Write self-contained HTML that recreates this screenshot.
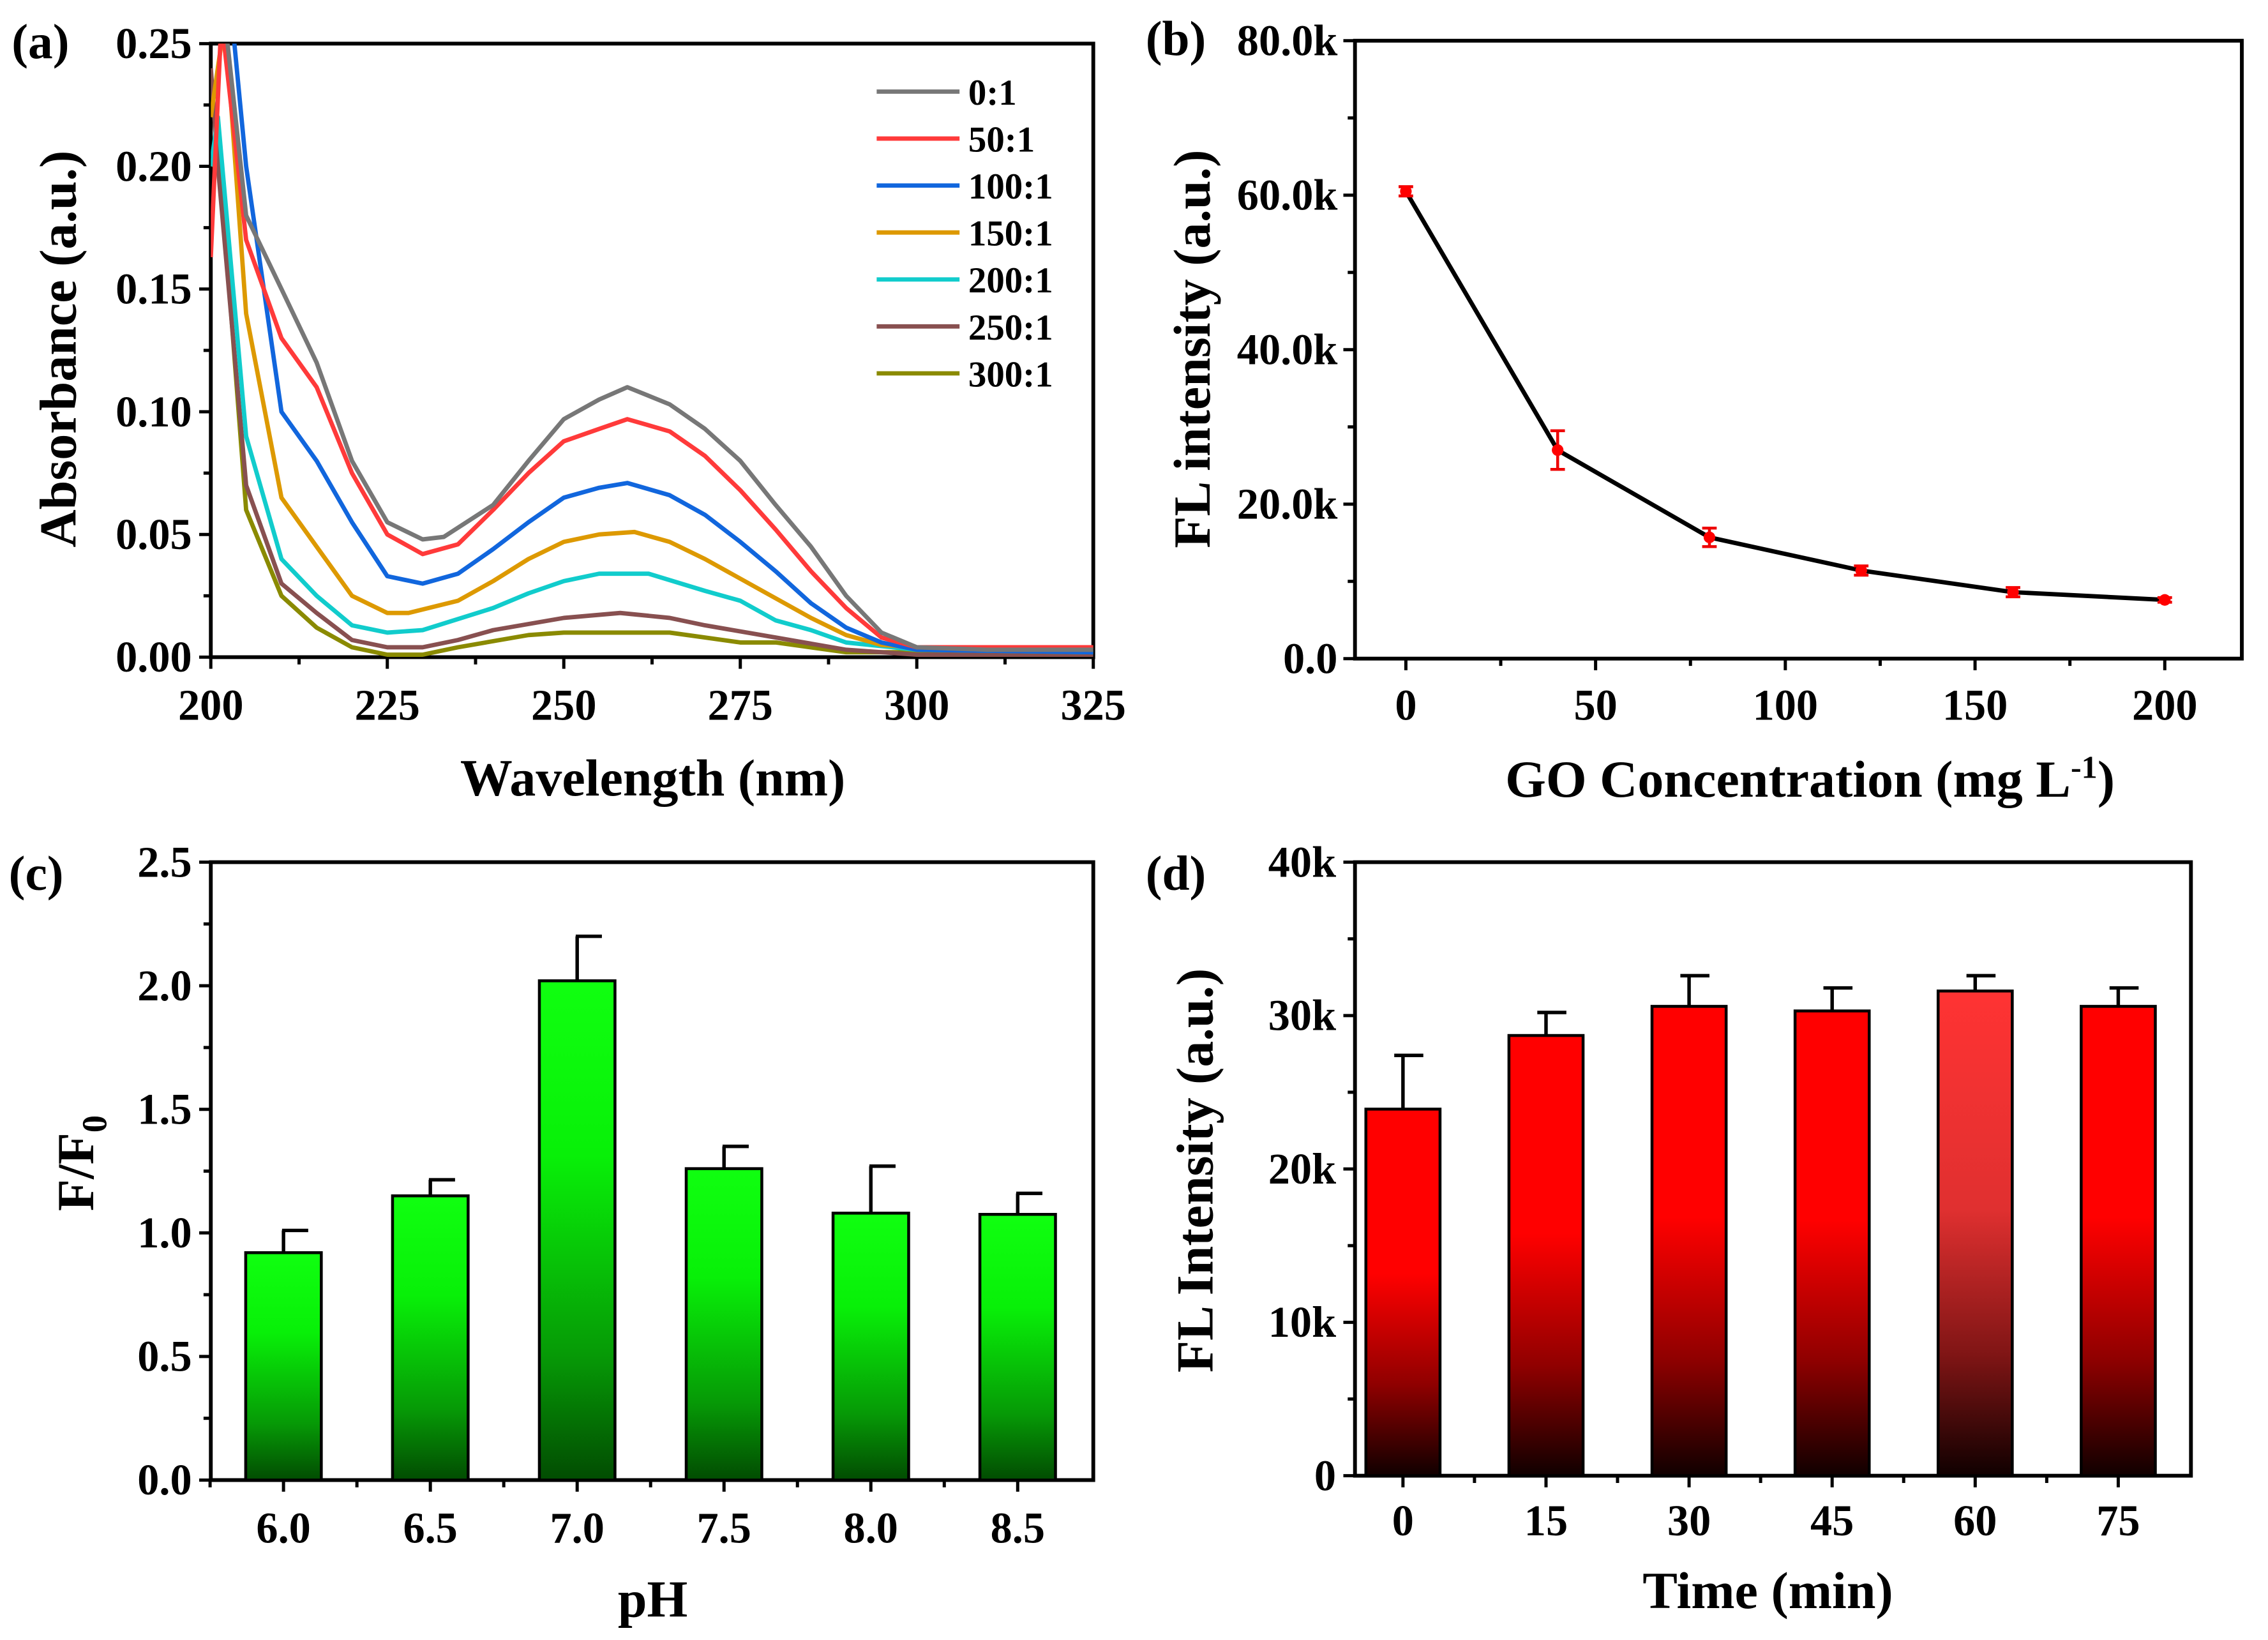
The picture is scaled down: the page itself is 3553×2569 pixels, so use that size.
<!DOCTYPE html>
<html><head><meta charset="utf-8"><style>
html,body{margin:0;padding:0;background:#fff}
svg{display:block}
text{font-family:"Liberation Serif",serif;font-weight:bold;fill:#000}
</style></head><body>
<svg id="fig" width="3553" height="2569" viewBox="0 0 1560 1128" preserveAspectRatio="none">
<defs>
<linearGradient id="gGreen" x1="0" y1="0" x2="0" y2="1">
<stop offset="0" stop-color="#10ff10"/><stop offset="0.35" stop-color="#08f008"/><stop offset="0.75" stop-color="#069a06"/><stop offset="1" stop-color="#024c02"/>
</linearGradient>
<linearGradient id="gRed" x1="0" y1="0" x2="0" y2="1">
<stop offset="0" stop-color="#ff0000"/><stop offset="0.45" stop-color="#ff0000"/><stop offset="0.75" stop-color="#900000"/><stop offset="1" stop-color="#100000"/>
</linearGradient>
<linearGradient id="gRed2" x1="0" y1="0" x2="0" y2="1">
<stop offset="0" stop-color="#ff3333"/><stop offset="0.45" stop-color="#e03030"/><stop offset="0.75" stop-color="#801515"/><stop offset="1" stop-color="#100000"/>
</linearGradient>
<clipPath id="clipA"><rect x="145" y="30" width="607" height="422"/></clipPath>
</defs>
<g id="root"></g>
</svg>
<script>
// Panel (a)
const aLabels = ["0:1","50:1","100:1","150:1","200:1","250:1","300:1"];
const aColors = ["#777777","#ff3a3a","#1166dd","#dd9900","#11cccc","#885050","#8a8a00"];
const aWl0 = [200,202,205,210,215,220,225,230,233,240,245,250,255,259,265,270,275,280,285,290,295,300,310,325];
const aAb0 = [0.26,0.26,0.18,0.15,0.12,0.08,0.055,0.048,0.049,0.062,0.08,0.097,0.105,0.11,0.103,0.093,0.08,0.062,0.045,0.025,0.01,0.004,0.003,0.003];
const aWl1 = [200,201.5,205,210,215,220,225,230,235,240,245,250,255,259,265,270,275,280,285,290,295,300,325];
const aAb1 = [0.163,0.26,0.17,0.13,0.11,0.075,0.05,0.042,0.046,0.06,0.075,0.088,0.093,0.097,0.092,0.082,0.068,0.052,0.035,0.02,0.008,0.004,0.004];
const aWl2 = [200,203,205,210,215,220,225,230,235,240,245,250,255,259,265,270,275,280,285,290,295,300,325];
const aAb2 = [0.26,0.26,0.2,0.1,0.08,0.055,0.033,0.03,0.034,0.044,0.055,0.065,0.069,0.071,0.066,0.058,0.047,0.035,0.022,0.012,0.006,0.003,0.002];
const aWl3 = [200,202,205,210,215,220,225,228,235,240,245,250,255,260,265,270,275,280,285,290,295,300,325];
const aAb3 = [0.22,0.26,0.14,0.065,0.045,0.025,0.018,0.018,0.023,0.031,0.04,0.047,0.05,0.051,0.047,0.04,0.032,0.024,0.016,0.009,0.005,0.004,0.004];
const aWl4 = [200,201,205,210,215,220,225,230,240,245,250,255,262,270,275,280,285,290,300,325];
const aAb4 = [0.2,0.22,0.09,0.04,0.025,0.013,0.01,0.011,0.02,0.026,0.031,0.034,0.034,0.027,0.023,0.015,0.011,0.006,0.003,0.002];
const aWl5 = [200,201,205,210,215,220,225,230,235,240,250,258,265,270,280,290,300,325];
const aAb5 = [0.24,0.2,0.07,0.03,0.018,0.007,0.004,0.004,0.007,0.011,0.016,0.018,0.016,0.013,0.008,0.003,0.001,0.001];
const aWl6 = [200,201,205,210,215,220,225,230,235,245,250,265,270,275,280,290,325];
const aAb6 = [0.2,0.21,0.06,0.025,0.012,0.004,0.001,0.001,0.004,0.009,0.01,0.01,0.008,0.006,0.006,0.002,0.002];
const aXTicks = [200,225,250,275,300,325];
const aYTicks = [0,0.05,0.10,0.15,0.20,0.25];
// Panel (b)
const bConc = [0,40,80,120,160,200];
const bVal = [60500,27000,15700,11400,8600,7600];
const bErr = [600,2500,1200,600,600,300];
const bXTicks = [0,50,100,150,200];
const bYTicks = [0,20000,40000,60000,80000];
const bYTickLabels = ["0.0","20.0k","40.0k","60.0k","80.0k"];
// Panel (c)
const cPH = ["6.0","6.5","7.0","7.5","8.0","8.5"];
const cVal = [0.92,1.15,2.02,1.26,1.08,1.075];
const cErr = [0.09,0.065,0.18,0.09,0.19,0.085];
const cYTicks = [0,0.5,1.0,1.5,2.0,2.5];
// Panel (d)
const dTime = ["0","15","30","45","60","75"];
const dVal = [23900,28700,30600,30300,31600,30600];
const dErr = [3500,1500,2000,1500,1000,1200];
const dYTicks = [0,10000,20000,30000,40000];
const dYTickLabels = ["0","10k","20k","30k","40k"];

const NS="http://www.w3.org/2000/svg";
const root=document.getElementById('root');
const TK=30, TT=36, PL=34;
function mk(tag,attrs,parent,txt){const e=document.createElementNS(NS,tag);for(const k in attrs)e.setAttribute(k,attrs[k]);if(txt!==undefined)e.textContent=txt;(parent||root).appendChild(e);return e;}

function frame(x0,y0,x1,y1,name){
  const r=mk('rect',{x:x0,y:y0,width:x1-x0,height:y1-y0,fill:'none',stroke:'#000','stroke-width':2.6});
  
  
}
function tick(x1,y1,x2,y2){mk('line',{x1:x1,y1:y1,x2:x2,y2:y2,stroke:'#000','stroke-width':2.2});}
function label(x,y,s,anchor,size,name){
  const t=mk('text',{x:x,y:y,'text-anchor':anchor,'font-size':size},root,s);
  
  
  return t;
}

// ---------- Panel a ----------
const aX=v=>145+(v-200)/125*607;
const aY=v=>452-v/0.25*422;
frame(145,30,752,452,'panel-a-frame');
aXTicks.forEach((v,i)=>{tick(aX(v),452,aX(v),460);label(aX(v),495,String(v),'middle',TK,'x-tick-label');
  if(i<aXTicks.length-1){const m=aX(v+12.5);tick(m,452,m,457);}});
aYTicks.forEach((v,i)=>{tick(145,aY(v),137,aY(v));label(132,aY(v)+10,v.toFixed(2),'end',TK,'y-tick-label');
  if(i<aYTicks.length-1){const m=aY(v+0.025);tick(145,m,140,m);}});
const aWls=[aWl0,aWl1,aWl2,aWl3,aWl4,aWl5,aWl6];
const aAbs=[aAb0,aAb1,aAb2,aAb3,aAb4,aAb5,aAb6];
const gA=mk('g',{'clip-path':'url(#clipA)'});
for(let s=aWls.length-1;s>=0;s--){
  const d=aWls[s].map((w,i)=>(i?'L':'M')+aX(w).toFixed(1)+','+aY(aAbs[s][i]).toFixed(1)).join(' ');
  const p=mk('path',{d:d,fill:'none',stroke:aColors[s],'stroke-width':3,'stroke-linejoin':'round'},gA);
  
  
}
aLabels.forEach((l,i)=>{const y=63+i*32.3;
  const ln=mk('line',{x1:603,y1:y,x2:660,y2:y,stroke:aColors[i],'stroke-width':3});
  
  
  label(666,y+9,l,'start',25,'legend-entry');});
label(449,547,'Wavelength (nm)','middle',TT,'x-axis-title');
let t=label(0,0,'Absorbance (a.u.)','middle',TT,'y-axis-title');t.setAttribute('transform','translate(52,240) rotate(-90)');
label(8,40,'(a)','start',PL,'panel-label-a');

// ---------- Panel b ----------
const bX=v=>967+v*2.61;
const bY=v=>453-v/80000*425;
frame(932,28,1542,453,'panel-b-frame');
bXTicks.forEach((v,i)=>{tick(bX(v),453,bX(v),461);label(bX(v),495,String(v),'middle',TK,'x-tick-label');
  if(i<bXTicks.length-1){const m=bX(v+25);tick(m,453,m,458);}});
bYTicks.forEach((v,i)=>{tick(932,bY(v),924,bY(v));label(920,bY(v)+10,bYTickLabels[i],'end',TK,'y-tick-label');
  if(i<bYTicks.length-1){const m=bY(v+10000);tick(932,m,927,m);}});
const bd=bConc.map((c,i)=>(i?'L':'M')+bX(c).toFixed(1)+','+bY(bVal[i]).toFixed(1)).join(' ');
const bl=mk('path',{d:bd,fill:'none',stroke:'#000','stroke-width':3,'stroke-linejoin':'round'});


bConc.forEach((c,i)=>{const x=bX(c),y1=bY(bVal[i]+bErr[i]),y2=bY(bVal[i]-bErr[i]);
  const g=mk('g',{});
  
  
  mk('line',{x1:x,y1:y1,x2:x,y2:y2,stroke:'#e00','stroke-width':2},g);
  mk('line',{x1:x-5,y1:y1,x2:x+5,y2:y1,stroke:'#e00','stroke-width':2},g);
  mk('line',{x1:x-5,y1:y2,x2:x+5,y2:y2,stroke:'#e00','stroke-width':2},g);
  mk('circle',{cx:x,cy:bY(bVal[i]),r:4,fill:'#f00'},g);});
const bt=label(1245,548,'GO Concentration (mg L','middle',TT,'x-axis-title');
mk('tspan',{dy:-13,'font-size':22},bt,'-1');
mk('tspan',{dy:13},bt,')');
t=label(0,0,'FL intensity (a.u.)','middle',TT,'y-axis-title');t.setAttribute('transform','translate(832,240) rotate(-90)');
label(788,38,'(b)','start',PL,'panel-label-b');

// ---------- Panel c ----------
const cx0=145,cx1=752;
const cXc=i=>195+i*101;
const cY=v=>1018-v/2.5*425;
frame(cx0,593,cx1,1018,'panel-c-frame');
cPH.forEach((p,i)=>{const x=cXc(i);
  const e1=cY(cVal[i]+cErr[i]),top=cY(cVal[i]);
  mk('line',{x1:x,y1:top,x2:x,y2:e1,stroke:'#000','stroke-width':2.4});
  mk('line',{x1:x-1,y1:e1,x2:x+17,y2:e1,stroke:'#000','stroke-width':2.4});
  const r=mk('rect',{x:x-26,y:top,width:52,height:1018-top,fill:'url(#gGreen)',stroke:'#000','stroke-width':2});
  
  
  tick(x,1018,x,1026);label(x,1061,p,'middle',TK,'x-tick-label');
  if(i<cPH.length-1){tick(x+50.5,1018,x+50.5,1023);}
});
tick(cXc(0)-50.5,1018,cXc(0)-50.5,1023);
cYTicks.forEach((v,i)=>{tick(cx0,cY(v),cx0-8,cY(v));label(cx0-13,cY(v)+10,v.toFixed(1),'end',TK,'y-tick-label');
  if(i<cYTicks.length-1){const m=cY(v+0.25);tick(cx0,m,cx0-5,m);}});
label(449,1112,'pH','middle',TT,'x-axis-title');
t=label(0,0,'F/F','middle',TT,'y-axis-title');mk('tspan',{dy:9,'font-size':24},t,'0');t.setAttribute('transform','translate(64,800) rotate(-90)');
label(6,612,'(c)','start',PL,'panel-label-c');

// ---------- Panel d ----------
const dx0=932,dx1=1507;
const dXc=i=>965+i*98.4;
const dY=v=>1015-v/40000*422;
frame(dx0,593,dx1,1015,'panel-d-frame');
dTime.forEach((p,i)=>{const x=dXc(i);
  const e1=dY(dVal[i]+dErr[i]),top=dY(dVal[i]);
  mk('line',{x1:x,y1:top,x2:x,y2:e1,stroke:'#000','stroke-width':2.4});
  mk('line',{x1:x-6,y1:e1,x2:x+14,y2:e1,stroke:'#000','stroke-width':2.4});
  const r=mk('rect',{x:x-25.5,y:top,width:51,height:1015-top,fill:i===4?'url(#gRed2)':'url(#gRed)',stroke:'#000','stroke-width':2});
  
  
  tick(x,1015,x,1023);label(x,1056,p,'middle',TK,'x-tick-label');
  if(i<dTime.length-1){tick(x+49.2,1015,x+49.2,1020);}
});
tick(dXc(0)-49.2,1015,dXc(0)-49.2,1020);
dYTicks.forEach((v,i)=>{tick(dx0,dY(v),dx0-8,dY(v));label(dx0-13,dY(v)+10,dYTickLabels[i],'end',TK,'y-tick-label');
  if(i<dYTicks.length-1){const m=dY(v+5000);tick(dx0,m,dx0-5,m);}});
label(1216,1106,'Time (min)','middle',TT,'x-axis-title');
t=label(0,0,'FL Intensity (a.u.)','middle',TT,'y-axis-title');t.setAttribute('transform','translate(834,805) rotate(-90)');
label(788,612,'(d)','start',PL,'panel-label-d');
</script>
</body></html>
